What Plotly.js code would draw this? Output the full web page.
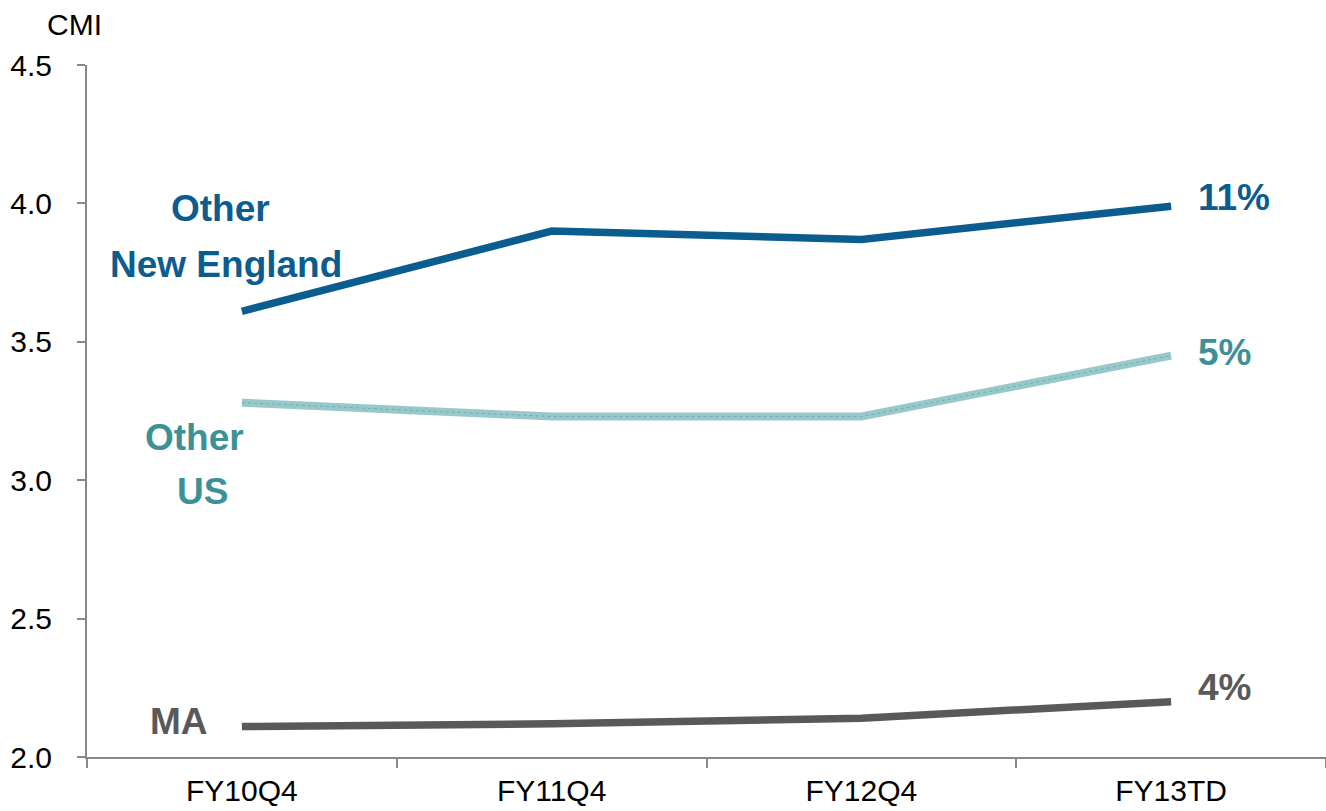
<!DOCTYPE html>
<html>
<head>
<meta charset="utf-8">
<script src="https://cdn.plot.ly/plotly-3.0.1.min.js"></script>
<style>html,body{margin:0;padding:0;background:#fff;}#chart{width:1326px;height:811px;}</style>
</head>
<body>
<div id="chart"></div>
<script>
const categories = ["FY10Q4", "FY11Q4", "FY12Q4", "FY13TD"];
const otherNewEngland = [3.61, 3.90, 3.87, 3.99];
const otherUS = [3.28, 3.23, 3.23, 3.45];
const ma = [2.11, 2.12, 2.14, 2.20];
const yTicks = [2.0, 2.5, 3.0, 3.5, 4.0, 4.5];
const yTickLabels = ["2.0", "2.5", "3.0", "3.5", "4.0", "4.5"];

const cBlue = "#0B5C8F", cTealLine = "#99C8CB", cTealText = "#3D9196", cGray = "#595959";
const font = "Liberation Sans, Arial, sans-serif";

const traces = [
  {x: categories, y: otherNewEngland, mode: "lines", line: {color: cBlue, width: 7.5}, hoverinfo: "none"},
  {x: categories, y: otherUS, mode: "lines", line: {color: cTealLine, width: 8}, hoverinfo: "none"},
  {x: categories, y: otherUS, mode: "lines", line: {color: "#6FAEB2", width: 1, dash: "dot"}, hoverinfo: "none"},
  {x: categories, y: ma, mode: "lines", line: {color: cGray, width: 7.5}, hoverinfo: "none"}
];

function ann(text, x, y, color, anchor) {
  return {text: text, x: x, y: y, xref: "paper", yref: "y", showarrow: false,
    xanchor: anchor, yanchor: "middle", font: {family: font, size: 37, color: color}};
}
const annotations = [
  ann("<b>Other</b>", 0.108, 3.983, cBlue, "center"),
  ann("<b>New England</b>", 0.112, 3.78, cBlue, "center"),
  ann("<b>Other</b>", 0.087, 3.155, cTealText, "center"),
  ann("<b>US</b>", 0.093, 2.96, cTealText, "center"),
  ann("<b>MA</b>", 0.074, 2.13, cGray, "center"),
  ann("<b>11%</b>", 0.895, 4.02, cBlue, "left"),
  ann("<b>5%</b>", 0.895, 3.46, cTealText, "left"),
  ann("<b>4%</b>", 0.895, 2.25, cGray, "left"),
  {text: "CMI", xref: "paper", yref: "paper", x: -0.0097, y: 1.059, showarrow: false,
   xanchor: "center", yanchor: "middle", font: {family: font, size: 30, color: "#000"}}
];

const layout = {
  width: 1326, height: 811,
  margin: {l: 87, r: 0, t: 65, b: 54},
  paper_bgcolor: "#fff", plot_bgcolor: "#fff",
  showlegend: false,
  font: {family: font, size: 30, color: "#000"},
  xaxis: {
    type: "category", range: [-0.5, 3.5], tickson: "boundaries",
    showgrid: false, zeroline: false, showline: true, linecolor: "#888", linewidth: 2,
    ticks: "outside", ticklen: 9, tickwidth: 2, tickcolor: "#888",
    tickfont: {family: font, size: 30, color: "#000"}, ticklabelstandoff: 6
  },
  yaxis: {
    range: [2.0, 4.5], tickvals: yTicks, ticktext: yTickLabels,
    showgrid: false, zeroline: false, showline: true, linecolor: "#888", linewidth: 2,
    ticks: "outside", ticklen: 8, tickwidth: 2, tickcolor: "#888",
    tickfont: {family: font, size: 30, color: "#000"}, ticklabelstandoff: 19
  },
  annotations: annotations
};

Plotly.newPlot("chart", traces, layout, {staticPlot: true, displayModeBar: false});
</script>
</body>
</html>
